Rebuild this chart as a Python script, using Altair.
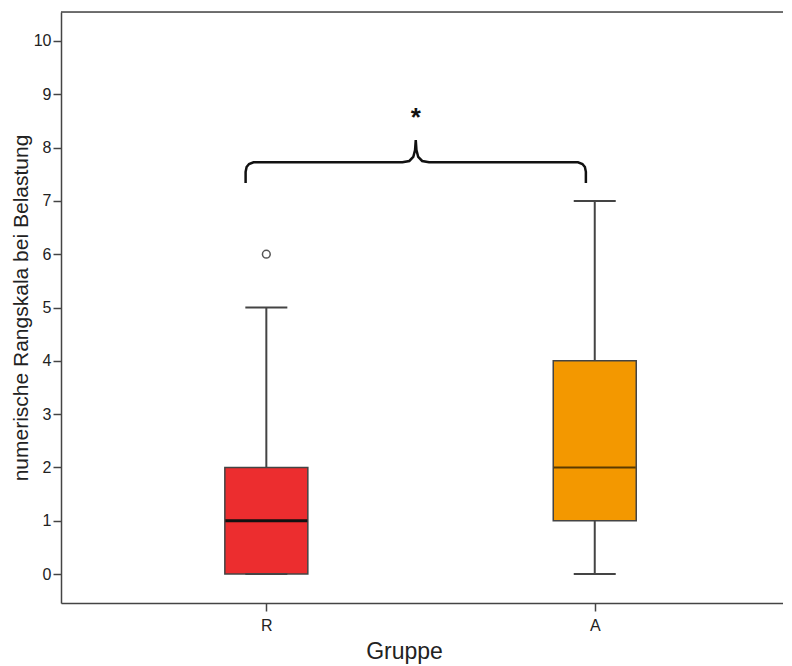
import altair as alt
import pandas as pd

# --- data ---
groups = ["R", "A"]
group_index = [1, 2]
whisker_low = [0, 0]
q1 = [0, 1]
median = [1, 2]
q3 = [2, 4]
whisker_high = [5, 7]
fills = ["#EC2D2F", "#F39800"]

outlier_group = [1]
outlier_value = [6]

# curly bracket (significance annotation), data units
bracket_x = [0.9369, 0.9369, 0.9399, 0.9474, 0.9610, 1.4144, 1.4354, 1.4474, 1.4529, 1.4550,
             1.4571, 1.4625, 1.4745, 1.4955, 1.9489, 1.9625, 1.9700, 1.9730, 1.9730]
bracket_y = [7.336, 7.545, 7.636, 7.692, 7.724, 7.724, 7.749, 7.824, 7.955, 8.143,
             7.955, 7.824, 7.749, 7.724, 7.724, 7.692, 7.636, 7.545, 7.336]
star_x = [1.455]
star_y = [8.41]
star_text = ["*"]

y_ticks = list(range(0, 11))

boxes = pd.DataFrame({"group": groups, "idx": group_index, "lo": whisker_low, "q1": q1,
                      "med": median, "q3": q3, "hi": whisker_high})
outl = pd.DataFrame({"idx": outlier_group, "v": outlier_value})
br = pd.DataFrame({"x": bracket_x, "y": bracket_y, "o": list(range(len(bracket_x)))})
star = pd.DataFrame({"x": star_x, "y": star_y, "t": star_text})

FONT = "Liberation Sans"
W = 722
xscale = alt.Scale(domain=[0.39, 2.558], nice=False, zero=False)
yscale = alt.Scale(domain=[-0.544, 10.544], nice=False, zero=False)

xaxis = alt.Axis(values=[1, 2], labelExpr="datum.value == 1 ? 'R' : 'A'", grid=False,
                 domainColor="#444", domainWidth=1.5, tickColor="#444", tickWidth=1.5,
                 tickSize=8, labelPadding=6, labelFont=FONT, labelFontSize=16, labelColor="#222",
                 title="Gruppe", titleFont=FONT, titleFontSize=23, titleFontWeight="normal",
                 titleColor="#222", titleX=343, titleY=55, titleBaseline="alphabetic",
                 titleAlign="center")
yaxis = alt.Axis(values=y_ticks, grid=False, domainColor="#444", domainWidth=1.5,
                 tickColor="#444", tickWidth=1.5, tickSize=8, labelPadding=2,
                 labelFont=FONT, labelFontSize=16, labelColor="#222",
                 title="numerische Rangskala bei Belastung", titleFont=FONT, titleFontSize=21,
                 titleFontWeight="normal", titleColor="#222", titleX=-34, titleAngle=270,
                 titleBaseline="alphabetic", titleAlign="center")

base = alt.Chart(boxes)

whisk_hi = base.mark_rule(color="#444", strokeWidth=2).encode(
    x=alt.X("idx:Q", scale=xscale, axis=xaxis),
    y=alt.Y("q3:Q", scale=yscale, axis=yaxis), y2="hi:Q")
whisk_lo = base.mark_rule(color="#444", strokeWidth=2).encode(
    x="idx:Q", y="lo:Q", y2="q1:Q")
cap_hi = base.mark_tick(orient="horizontal", size=42, thickness=2, color="#444", opacity=1).encode(
    x="idx:Q", y="hi:Q")
cap_lo = base.mark_tick(orient="horizontal", size=42, thickness=2, color="#444", opacity=1).encode(
    x="idx:Q", y="lo:Q")
box = base.mark_bar(size=83, stroke="#444", strokeWidth=1.5, opacity=1).encode(
    x="idx:Q", y="q1:Q", y2="q3:Q",
    color=alt.Color("group:N", scale=alt.Scale(domain=groups, range=fills), legend=None))
med_r = base.transform_filter("datum.group == 'R'").mark_tick(
    orient="horizontal", size=82, thickness=3, color="#111", opacity=1).encode(x="idx:Q", y="med:Q")
med_a = base.transform_filter("datum.group == 'A'").mark_tick(
    orient="horizontal", size=82, thickness=2, color="#5a3a00", opacity=1).encode(x="idx:Q", y="med:Q")

out = alt.Chart(outl).mark_point(shape="circle", size=60, filled=False, color="#555",
                                 strokeWidth=1.5, opacity=1).encode(x="idx:Q", y="v:Q")
bracket = alt.Chart(br).mark_line(color="#111", strokeWidth=2.5, interpolate="linear").encode(
    x="x:Q", y="y:Q", order="o:Q")
stars = alt.Chart(star).mark_text(font=FONT, fontSize=26, fontWeight="bold", color="#111",
                                  baseline="alphabetic", align="center").encode(
    x="x:Q", y="y:Q", text="t:N")
top_border = alt.Chart(star).mark_rule(color="#444", strokeWidth=1.5).encode(
    x=alt.value(0), x2=alt.value(W), y=alt.value(0))

chart = alt.layer(whisk_hi, whisk_lo, box, med_r, med_a, cap_hi, cap_lo, out, bracket, stars,
                  top_border).properties(
    width=W, height=591,
    padding={"left": 53, "top": 4, "right": 0, "bottom": 62},
    autosize=alt.AutoSizeParams(type="none"),
).configure_view(stroke=None).configure(background="white")

chart.save("out.html", embed_options={"renderer": "svg", "actions": False})
